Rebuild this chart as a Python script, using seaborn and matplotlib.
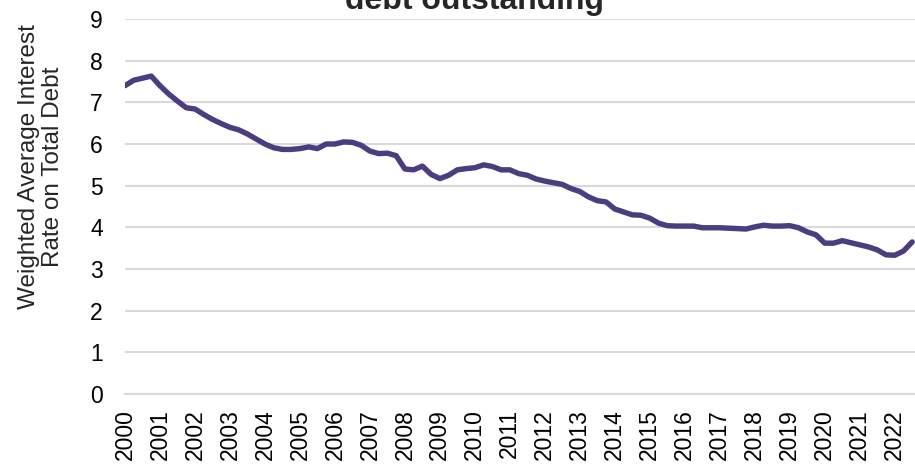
"""
Weighted average interest rate on total debt outstanding (quarterly)
"""

import numpy as np
import pandas as pd
import matplotlib
matplotlib.use('Agg')
import matplotlib.pyplot as plt
import seaborn as sns

# Données (taux trimestriels)
quarters = np.arange(2000, 2022.51, 0.25)
rates = [
    7.40, 7.53, 7.58, 7.63, 7.40, 7.20, 7.03, 6.87,
    6.84, 6.71, 6.59, 6.49, 6.40, 6.34, 6.24, 6.12,
    6.00, 5.91, 5.87, 5.87, 5.89, 5.93, 5.89, 6.00,
    6.00, 6.05, 6.04, 5.97, 5.83, 5.77, 5.78, 5.72,
    5.40, 5.38, 5.47, 5.27, 5.17, 5.25, 5.38, 5.41,
    5.43, 5.50, 5.46, 5.38, 5.38, 5.29, 5.25, 5.16,
    5.11, 5.07, 5.03, 4.93, 4.86, 4.73, 4.64, 4.61,
    4.44, 4.37, 4.30, 4.29, 4.22, 4.10, 4.04, 4.03,
    4.03, 4.03, 3.99, 3.99, 3.99, 3.98, 3.97, 3.96,
    4.01, 4.05, 4.03, 4.03, 4.04, 3.99, 3.89, 3.82,
    3.62, 3.62, 3.68, 3.63, 3.58, 3.53, 3.46, 3.34,
    3.33, 3.43, 3.65,
]
years = list(range(2000, 2023))
y_ticks = list(range(0, 10))

TITLE = 'debt outstanding'
Y_LABEL = 'Weighted Average Interest\nRate on Total Debt'

df = pd.DataFrame({'quarter': quarters, 'rate': rates})

# Style
sns.set_theme(style='white')
plt.rcParams['font.family'] = ['Liberation Sans', 'DejaVu Sans']

fig = plt.figure(figsize=(9.15, 4.67), dpi=100)
ax = fig.add_axes([0.1366, 0.1563, 0.8634, 0.803])

sns.lineplot(data=df, x='quarter', y='rate', ax=ax,
             color='#4b3d7f', linewidth=3.9)

ax.set_xlim(2000, 2022.58)
ax.set_ylim(0, 9)
ax.set_yticks(y_ticks)
ax.set_xticks(years)
ax.set_xticklabels([str(y) for y in years], rotation=90)
ax.tick_params(axis='y', labelsize=16.5, length=0, pad=16, colors='black')
ax.tick_params(axis='x', labelsize=16.5, length=5, width=1.2,
               color='#d9d9d9', pad=6, labelcolor='black')

ax.grid(axis='y', color='#d9d9d9', linewidth=1.5)
ax.set_axisbelow(True)
for side in ['top', 'right', 'left']:
    ax.spines[side].set_visible(False)
ax.spines['bottom'].set_color('#d9d9d9')
ax.spines['bottom'].set_linewidth(1.5)

ax.set_xlabel('')
ax.set_ylabel('')
fig.text(41 / 915, 1 - 167 / 467, Y_LABEL, rotation=90, ha='center',
         va='center', fontsize=17.5, linespacing=1.1)

# Titre (partiellement coupé en haut dans l'original)
fig.text(0.519, 1 - 9 / 467, TITLE, ha='center', va='baseline',
         fontsize=23, fontweight='bold')

fig.savefig('out.png', dpi=100)
plt.close(fig)
